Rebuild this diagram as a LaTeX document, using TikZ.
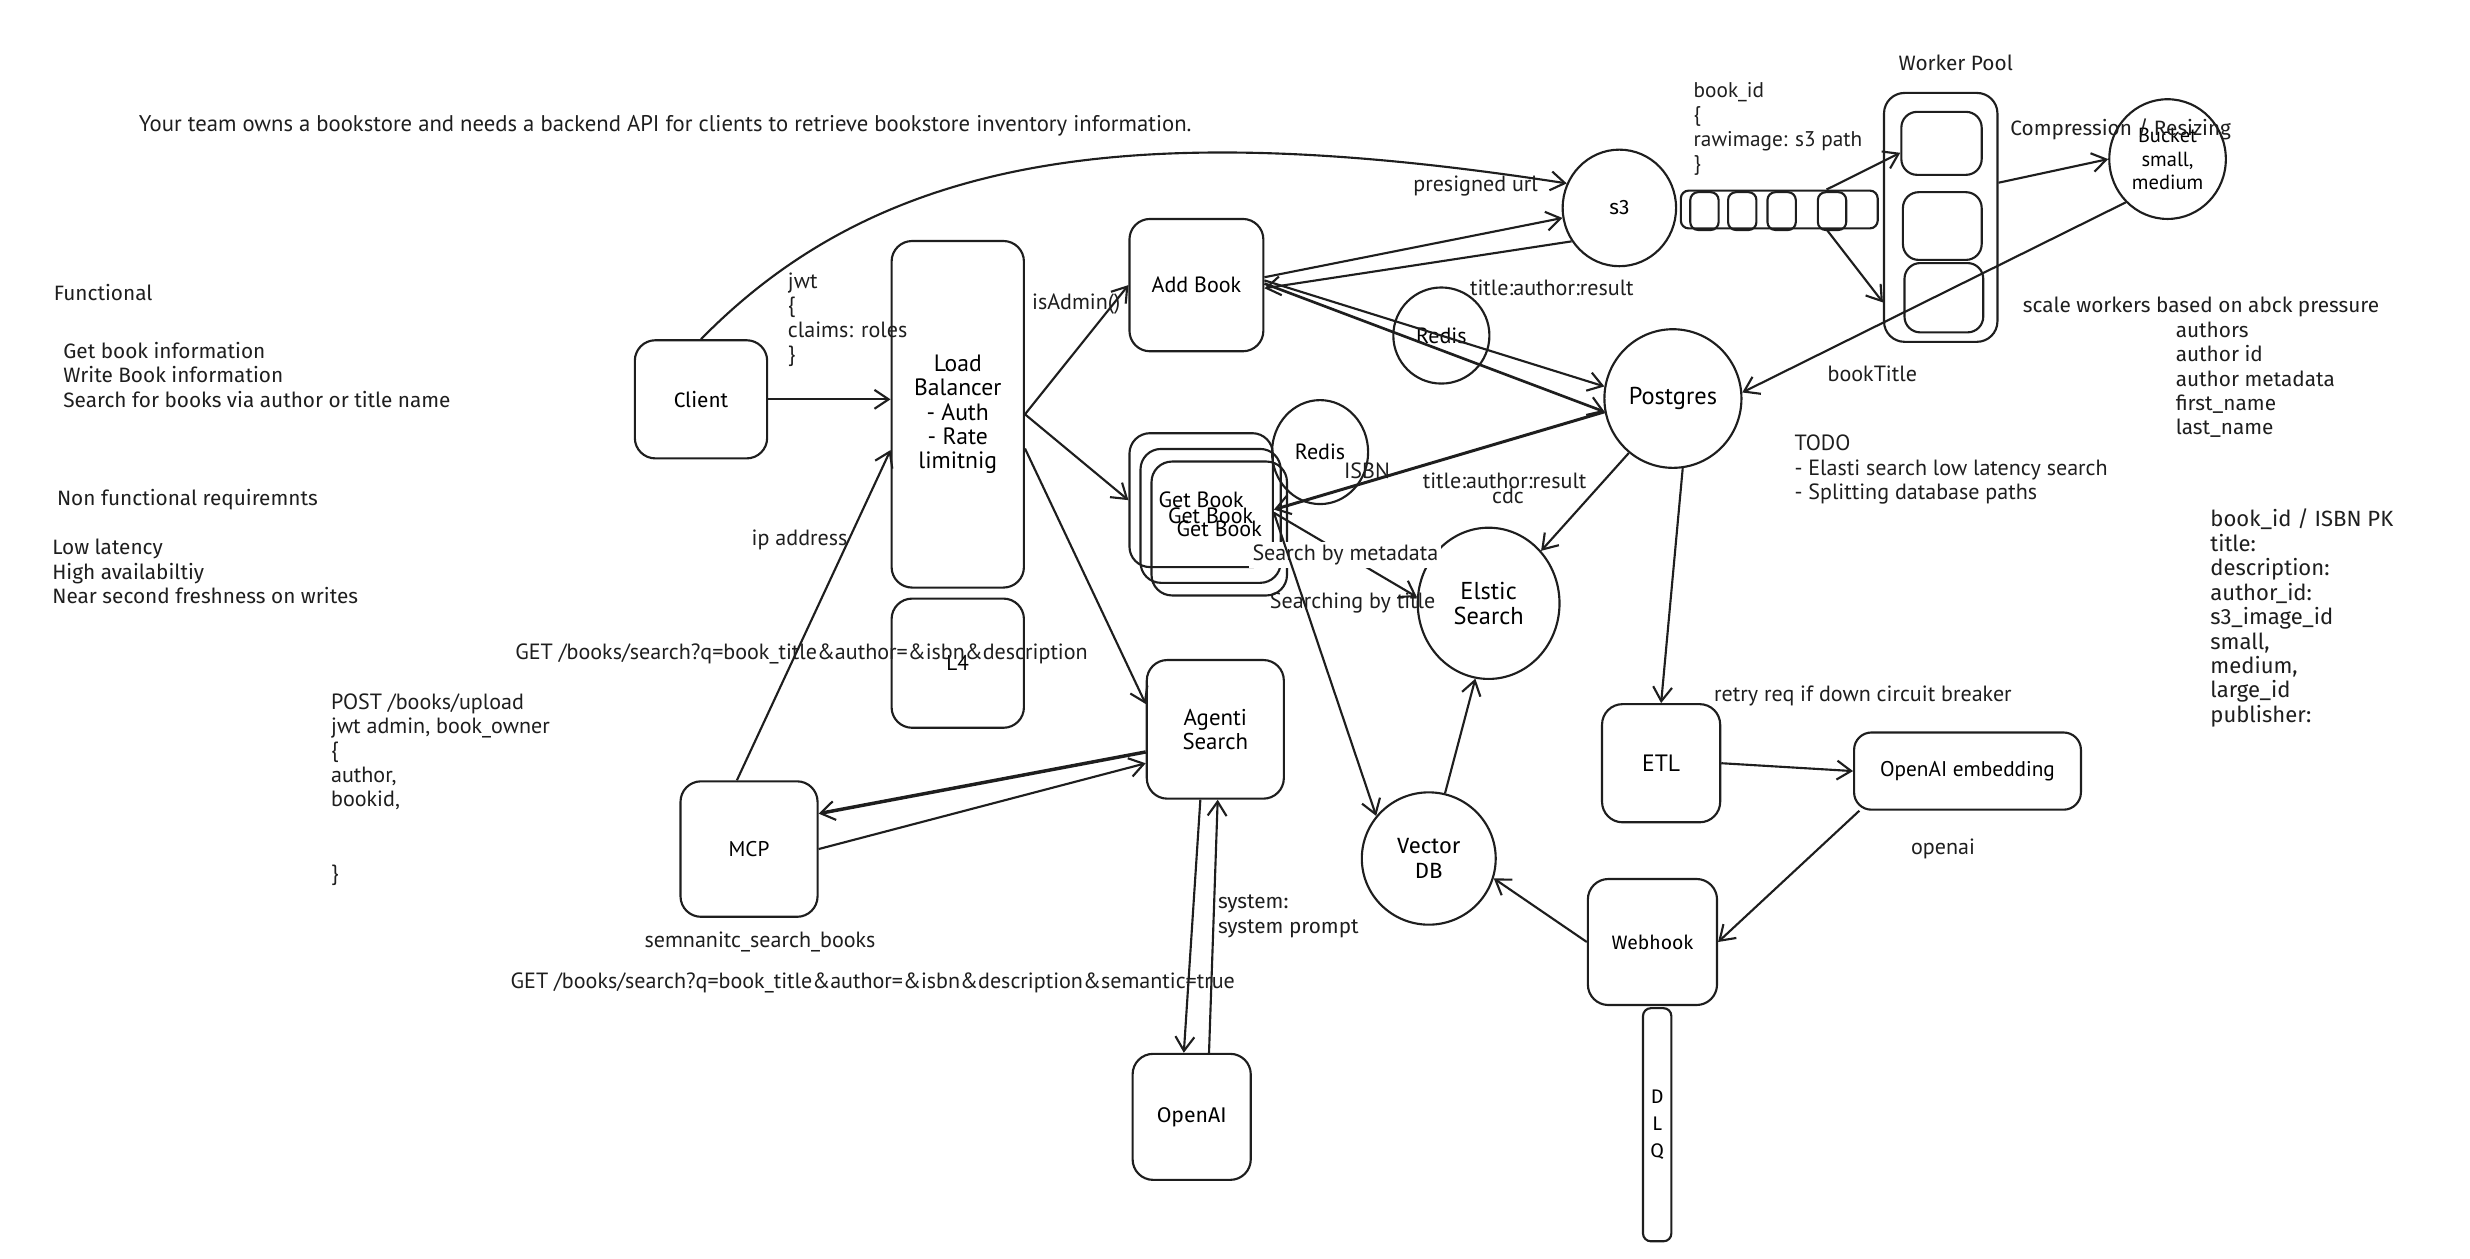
\documentclass[tikz,border=0pt]{standalone}
\usepackage{fontspec}
\setmainfont{PT Sans}
\newfontfamily\efont{Fira Sans}
\usetikzlibrary{arrows.meta,shapes.geometric,calc}
\definecolor{ink}{HTML}{1E1E1E}
\tikzset{
  vt/.style={font=\fontsize{14}{15.5}\selectfont, text=ink, inner sep=0pt, align=left},
  et/.style={font=\efont\fontsize{13.2}{15.5}\selectfont, text=ink, inner sep=0pt, align=left},
  box/.style={draw=ink, line width=1.35pt, rounded corners=13pt, inner sep=0pt, align=center},
  sbox/.style={draw=ink, line width=1.35pt, rounded corners=5pt, inner sep=0pt},
  oval/.style={draw=ink, line width=1.35pt, ellipse, inner sep=0pt, align=center},
  arr/.style={draw=ink, line width=1.35pt, -{Straight Barb[length=9pt,width=12pt,line width=1.35pt]}},
}
\begin{document}
\begin{tikzpicture}[x=1pt,y=-1pt]
\useasboundingbox (0,0) rectangle (1568,799);

% ---------- boxes ----------
\node[box, minimum width=84pt, minimum height=75pt, font=\efont\fontsize{13.2}{15}\selectfont] (client) at (445,253.5) {Client};
\node[box, minimum width=84pt, minimum height=220pt, font=\fontsize{15}{15.3}\selectfont] (lb) at (608,263) {Load\\Balancer\\- Auth\\- Rate\\limitnig};
\node[box, minimum width=84pt, minimum height=82pt, font=\fontsize{13.5}{15}\selectfont] (l4) at (608,421) {L4};
\node[box, minimum width=85pt, minimum height=84pt, font=\fontsize{14}{15}\selectfont] (addbook) at (759.5,181) {Add Book};
\node[box, minimum width=91pt, minimum height=85pt, font=\fontsize{14}{15}\selectfont] (gb1) at (762.5,317.5) {Get Book};
\node[box, minimum width=89pt, minimum height=85pt, font=\fontsize{14}{15}\selectfont] (gb2) at (768.5,327.5) {Get Book};
\node[box, minimum width=86pt, minimum height=85pt, font=\fontsize{14}{15}\selectfont] (gb3) at (774,335.5) {Get Book};
\node[box, minimum width=87pt, minimum height=88pt, font=\fontsize{14.5}{15.5}\selectfont] (agenti) at (771.5,463) {Agenti\\Search};
\node[box, minimum width=87pt, minimum height=86pt, font=\fontsize{13.5}{15}\selectfont] (mcp) at (475.5,539) {MCP};
\node[box, minimum width=75pt, minimum height=80pt, font=\efont\fontsize{13.5}{15}\selectfont] (openai) at (756.5,709) {OpenAI};
\node[box, minimum width=75pt, minimum height=75pt, font=\fontsize{15}{15}\selectfont] (etl) at (1054.5,484.5) {ETL};
\node[box, minimum width=144pt, minimum height=49pt, rounded corners=11pt, font=\fontsize{13.5}{15}\selectfont] (embed) at (1249,489.5) {OpenAI embedding};
\node[box, minimum width=82pt, minimum height=80pt, font=\efont\fontsize{12.3}{15}\selectfont] (webhook) at (1049,598) {Webhook};
\node[sbox, minimum width=18pt, minimum height=148pt, align=center, font=\efont\fontsize{12.5}{17}\selectfont] (dlq) at (1052,714) {D\\L\\Q};
\node[box, minimum width=72pt, minimum height=158pt] (pool) at (1232,138) {};
\node[box, rounded corners=10pt, minimum width=51pt, minimum height=40pt] (w1) at (1232.5,91) {};
\node[box, rounded corners=10pt, minimum width=50pt, minimum height=43pt] (w2) at (1233,143.5) {};
\node[box, rounded corners=10pt, minimum width=50pt, minimum height=44pt] (w3) at (1234,189) {};
\node[sbox, minimum width=125pt, minimum height=24pt] (queue) at (1129.5,133) {};
\node[sbox, minimum width=18pt, minimum height=24pt] (q1) at (1082,134) {};
\node[sbox, minimum width=18pt, minimum height=24pt] (q2) at (1106,134) {};
\node[sbox, minimum width=18pt, minimum height=24pt] (q3) at (1131,134) {};
\node[sbox, minimum width=18pt, minimum height=24pt] (q4) at (1163,134) {};

% ---------- circles ----------
\node[oval, minimum width=72pt, minimum height=74pt, font=\efont\fontsize{13.2}{15}\selectfont] (s3) at (1028,132) {s3};
\node[oval, minimum width=61pt, minimum height=61pt, font=\fontsize{14}{15}\selectfont] (redisa) at (915,213) {Redis};
\node[oval, minimum width=61pt, minimum height=66pt, font=\fontsize{14}{15}\selectfont] (redisb) at (838,287) {Redis};
\node[oval, minimum width=87pt, minimum height=88pt, font=\fontsize{15.5}{15}\selectfont] (postgres) at (1062,253) {Postgres};
\node[oval, minimum width=90pt, minimum height=96pt, font=\fontsize{15.5}{16}\selectfont] (elastic) at (945,383) {Elstic\\Search};
\node[oval, minimum width=85pt, minimum height=84pt, font=\efont\fontsize{14}{16}\selectfont] (vector) at (907,545) {Vector\\DB};
\node[oval, minimum width=74pt, minimum height=76pt, font=\fontsize{13}{15}\selectfont] (bucket) at (1376,101) {Bucket\\small,\\medium};

% ---------- free text ----------
\node[vt, font=\fontsize{14.4}{15.5}\selectfont, anchor=west] (title) at (88,80) {Your team owns a bookstore and needs a backend API for clients to retrieve bookstore inventory information.};
\node[et, anchor=west] (functional) at (34,186) {Functional};
\node[et, anchor=north west] (funclist) at (40,217) {Get book information\\Write Book information\\Search for books via author or title name};
\node[et, anchor=west] (nonfunc) at (36,317) {Non functional requiremnts};
\node[et, anchor=north west] (nflist) at (33,342) {Low latency\\High availabiltiy\\Near second freshness on writes};
\node[vt, anchor=north west] (post) at (210,440) {POST /books/upload\\jwt admin, book\_owner\\\{\\author,\\bookid,\\[31pt]\}};
\node[vt, anchor=north west] (jwt) at (500,173) {jwt\\\{\\claims: roles\\\}};
\node[vt, anchor=west] (isadmin) at (655,193) {isAdmin()};
\node[vt, anchor=west] (ipaddr) at (477,343) {ip address};
\node[vt, anchor=west] (get1) at (327,415) {GET /books/search?q=book\_title\&author=\&isbn\&description};
\node[vt, anchor=west] (semsearch) at (409,598) {semnanitc\_search\_books};
\node[vt, anchor=west] (get2) at (324,624) {GET /books/search?q=book\_title\&author=\&isbn\&description\&semantic=true};
\node[et, anchor=north west] (sysprompt) at (773,568) {system:\\system prompt};
\node[vt, anchor=west] (presigned) at (897,118) {presigned url};
\node[vt, anchor=west] (tarA) at (933,183) {title:author:result};
\node[vt, anchor=west] (isbn) at (853,299) {ISBN};
\node[vt, anchor=north west] (tarB) at (903,300) {title:author:result\\[-6pt]\hspace*{44pt}cdc};
\node[vt, anchor=west] (searchtitle) at (806,383) {Searching by title};
\node[vt, font=\fontsize{13.5}{15.5}\selectfont, anchor=north west] (bookid) at (1075,52) {book\_id\\\{\\rawimage: s3 path\\\}};
\node[et, anchor=west] (poollabel) at (1205,40) {Worker Pool};
\node[et, anchor=west] (compress) at (1276,82) {Compression / Resizing};
\node[et, anchor=west] (scale) at (1284,195) {scale workers based on abck pressure};
\node[et, anchor=north west] (authors) at (1381,204) {authors\\author id\\author metadata\\first\_name\\last\_name};
\node[vt, anchor=west] (booktitle) at (1160,237) {bookTitle};
\node[vt, anchor=north west] (todo) at (1139,276) {TODO\\- Elasti search low latency search\\- Splitting database paths};
\node[et, font=\efont\fontsize{14}{15.5}\selectfont, anchor=north west] (schema) at (1403,323) {book\_id / ISBN PK\\title:\\description:\\author\_id:\\s3\_image\_id\\small,\\medium,\\large\_id\\publisher:};
\node[vt, anchor=west] (retry) at (1088,442) {retry req if down circuit breaker};
\node[vt, anchor=west] (openailabel) at (1213,539) {openai};

% ---------- connectors ----------
\draw[arr] (client.east) -- (client.east -| lb.west);
\draw[arr] (client.north) .. controls (560,98) and (720,74) .. (s3.155);
\draw[arr] (lb.east) -- (addbook.west);
\draw[arr] (lb.east) -- (gb1.west);
\draw[arr] (lb.-27) -- (agenti.160);
\draw[arr] (mcp.100) -- (lb.208);
\draw[arr, line width=2.2pt] (agenti.198) -- (mcp.27);
\draw[arr] (mcp.east) -- (agenti.206);
\draw[arr] ([xshift=-9.5pt]agenti.south) -- ([xshift=-5pt]openai.north);
\draw[arr] ([xshift=11pt]openai.north) -- ([xshift=1.5pt]agenti.south);
\draw[arr] ([yshift=5pt]addbook.east) -- (s3.190);
\draw[arr] (s3.215) -- ([yshift=-2pt]addbook.east);
\draw[arr] ([yshift=3pt]addbook.east) -- (postgres.170);
\draw[arr, line width=1.7pt] ([yshift=1pt]addbook.east) -- (postgres.191);
\draw[arr, line width=1.9pt] (postgres.191) -- ([yshift=-6pt]gb1.east);
\draw[arr] ([yshift=-8pt]gb1.east) -- node[vt, fill=white, inner sep=2pt] (metalabel) {Search by metadata} (elastic.175);
\draw[arr] ([yshift=-8pt]gb1.east) -- (vector.141);
\draw[arr] (postgres.231) -- (elastic.45);
\draw[arr] (postgres.-82) -- (etl.north);
\draw[arr] (etl.east) -- (embed.west);
\draw[arr] ([xshift=4pt]embed.south west) -- (webhook.east);
\draw[arr] (webhook.west) -- (vector.-17);
\draw[arr] (vector.76) -- (elastic.-100);
\draw[arr] ([xshift=30pt]queue.north) -- ([yshift=-6pt]w1.west);
\draw[arr] ([xshift=30pt]queue.south) -- ([yshift=-54pt]pool.west);
\draw[arr] ([yshift=22pt]pool.east) -- (bucket.west);
\draw[arr] (bucket.226) -- (postgres.5);
\end{tikzpicture}
\end{document}
